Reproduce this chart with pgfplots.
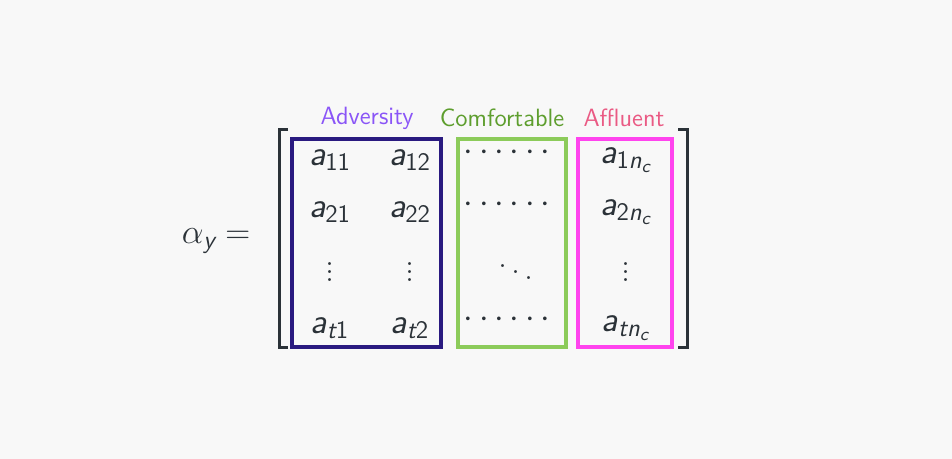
\documentclass[border=0pt]{standalone}
\usepackage{pgfplots}
\pgfplotsset{compat=1.18}
\usepackage{amsmath}
\definecolor{bg}{HTML}{F8F8F8}
\definecolor{dblue}{HTML}{2A1A80}
\definecolor{gbox}{HTML}{8CCB5A}
\definecolor{mbox}{HTML}{FF44EE}
\definecolor{lpurple}{HTML}{8A55F7}
\definecolor{lgreen}{HTML}{5E9E2E}
\definecolor{lpink}{HTML}{EA5A84}
\definecolor{ink}{HTML}{2B3238}
\newcommand{\si}[1]{\text{\sffamily\itshape #1}}
\newcommand{\su}[1]{\text{\sffamily #1}}
\begin{document}
\begin{tikzpicture}
\begin{axis}[hide axis, scale only axis, width=476pt, height=229.5pt,
  xmin=0, xmax=952, ymin=0, ymax=459, y dir=reverse, clip=false]
\fill[bg] (axis cs:0,0) rectangle (axis cs:952,459);
\draw[ink, line width=1.5pt] (axis cs:288,130) -- (axis cs:279,130) -- (axis cs:279,348) -- (axis cs:288,348);
\draw[ink, line width=1.5pt] (axis cs:678,130) -- (axis cs:687,130) -- (axis cs:687,348) -- (axis cs:678,348);
\draw[dblue, line width=2pt] (axis cs:292,139) rectangle (axis cs:441,347);
\draw[gbox, line width=2pt] (axis cs:458,139) rectangle (axis cs:566,347);
\draw[mbox, line width=2pt] (axis cs:578,139) rectangle (axis cs:672,347);
\node[lpurple, font=\sffamily\fontsize{12.5}{14}\selectfont] at (axis cs:367,118) {Adversity};
\node[lgreen, font=\sffamily\fontsize{12.5}{14}\selectfont] at (axis cs:502,118) {Comfortable};
\node[lpink, font=\sffamily\fontsize{12.5}{14}\selectfont] at (axis cs:624,118) {Affluent};
\node[ink, font=\fontsize{18}{20}\selectfont] at (axis cs:216,241) {$\alpha_{\si{y}} =$};
\begin{scope}[every node/.style={ink, font=\fontsize{18}{20}\selectfont}]
\node at (axis cs:330,160) {$\si{a}_{\su{11}}$};
\node at (axis cs:410,160) {$\si{a}_{\su{12}}$};
\node at (axis cs:510,153) {$\cdots\cdots$};
\node at (axis cs:626,160) {$\si{a}_{\su{1}\si{n}_{\si{c}}}$};
\node at (axis cs:330,212) {$\si{a}_{\su{21}}$};
\node at (axis cs:410,212) {$\si{a}_{\su{22}}$};
\node at (axis cs:510,205) {$\cdots\cdots$};
\node at (axis cs:626,212) {$\si{a}_{\su{2}\si{n}_{\si{c}}}$};
\node at (axis cs:330,266) {$\vdots$};
\node at (axis cs:410,266) {$\vdots$};
\node at (axis cs:516,266) {$\ddots$};
\node at (axis cs:626,266) {$\vdots$};
\node at (axis cs:330,328) {$\si{a}_{\si{t}\su{1}}$};
\node at (axis cs:410,328) {$\si{a}_{\si{t}\su{2}}$};
\node at (axis cs:510,320) {$\cdots\cdots$};
\node at (axis cs:626,328) {$\si{a}_{\si{tn}_{\si{c}}}$};
\end{scope}
\end{axis}
\end{tikzpicture}
\end{document}
